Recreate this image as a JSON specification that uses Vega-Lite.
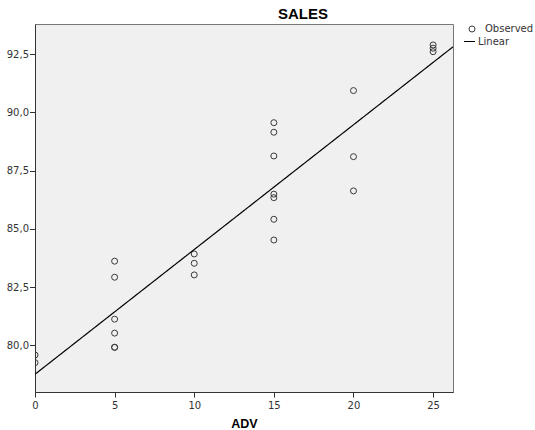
{
  "$schema": "https://vega.github.io/schema/vega-lite/v6.json",
  "width": 418,
  "height": 368,
  "autosize": "none",
  "padding": {"left": 35, "top": 24, "right": 82, "bottom": 38},
  "background": "white",
  "title": {
    "text": "SALES",
    "font": "Liberation Sans",
    "fontSize": 15,
    "fontWeight": "bold",
    "color": "#000000",
    "anchor": "middle",
    "frame": "group",
    "dx": 59,
    "offset": -10,
    "baseline": "alphabetic"
  },
  "data": {
    "values": [
      {"ADV": 0, "SALES": 79.58},
      {"ADV": 0, "SALES": 79.25},
      {"ADV": 5, "SALES": 83.61},
      {"ADV": 5, "SALES": 82.92},
      {"ADV": 5, "SALES": 81.12},
      {"ADV": 5, "SALES": 80.52},
      {"ADV": 5, "SALES": 79.91},
      {"ADV": 5, "SALES": 79.91},
      {"ADV": 10, "SALES": 83.92},
      {"ADV": 10, "SALES": 83.52},
      {"ADV": 10, "SALES": 83.02},
      {"ADV": 15, "SALES": 89.56},
      {"ADV": 15, "SALES": 89.15},
      {"ADV": 15, "SALES": 88.13},
      {"ADV": 15, "SALES": 86.49},
      {"ADV": 15, "SALES": 86.34},
      {"ADV": 15, "SALES": 85.41},
      {"ADV": 15, "SALES": 84.52},
      {"ADV": 20, "SALES": 90.94},
      {"ADV": 20, "SALES": 88.1},
      {"ADV": 20, "SALES": 86.63},
      {"ADV": 25, "SALES": 92.9},
      {"ADV": 25, "SALES": 92.76},
      {"ADV": 25, "SALES": 92.61}
    ]
  },
  "layer": [
    {
      "mark": {"type": "point", "filled": false, "size": 36, "strokeWidth": 1, "clip": true, "opacity": 1, "color": "#3a3a3a"},
      "encoding": {
        "x": {
          "field": "ADV",
          "type": "quantitative",
          "scale": {"domain": [0, 26.25], "nice": false, "zero": false},
          "axis": {
            "values": [0, 5, 10, 15, 20, 25],
            "format": "d",
            "title": "ADV",
            "titleFont": "Liberation Sans",
            "titleFontSize": 12.5,
            "titleFontWeight": "bold",
            "titleColor": "#000000",
            "titlePadding": 7,
            "labelPadding": 3,
            "tickSize": 5,
            "labelFlush": false,
            "grid": false
          }
        },
        "y": {
          "field": "SALES",
          "type": "quantitative",
          "scale": {"domain": [77.99, 93.8], "nice": false, "zero": false},
          "axis": {
            "values": [80, 82.5, 85, 87.5, 90, 92.5],
            "format": ".1f",
            "title": null,
            "tickSize": 5.5,
            "labelPadding": 1,
            "grid": false
          }
        },
        "shape": {
          "datum": "Observed",
          "scale": {"domain": ["Observed"], "range": ["circle"]},
          "legend": {
            "title": null,
            "orient": "none",
            "legendX": 432,
            "legendY": 0,
            "padding": 0,
            "labelFont": "DejaVu Sans",
            "labelFontSize": 10,
            "labelColor": "#333333",
            "labelOffset": 8,
            "symbolSize": 36,
            "symbolType": "circle",
            "symbolStrokeWidth": 1,
            "symbolStrokeColor": "#3a3a3a",
            "symbolFillColor": "transparent"
          }
        }
      }
    },
    {
      "transform": [{"regression": "SALES", "on": "ADV", "extent": [0, 26.25]}],
      "mark": {"type": "line", "strokeWidth": 1.2, "clip": true, "color": "#000000"},
      "encoding": {
        "x": {"field": "ADV", "type": "quantitative"},
        "y": {"field": "SALES", "type": "quantitative"},
        "strokeDash": {
          "datum": "Linear",
          "scale": {"domain": ["Linear"], "range": [[1, 0]]},
          "legend": {
            "title": null,
            "orient": "none",
            "legendX": 428,
            "legendY": 11,
            "padding": 0,
            "labelFont": "DejaVu Sans",
            "labelFontSize": 10,
            "labelColor": "#333333",
            "labelOffset": 2,
            "symbolType": "stroke",
            "symbolSize": 121,
            "symbolStrokeWidth": 1.2,
            "symbolStrokeColor": "#000000"
          }
        }
      }
    }
  ],
  "config": {
    "locale": {
      "number": {"decimal": ",", "thousands": ".", "grouping": [3], "currency": ["", " €"]}
    },
    "view": {"fill": "#f0f0f0", "stroke": "#777777", "strokeWidth": 1},
    "axis": {
      "labelFont": "DejaVu Sans",
      "labelFontSize": 10,
      "labelColor": "#333333",
      "domainColor": "#333333",
      "tickColor": "#333333",
      "domainWidth": 1,
      "tickWidth": 1
    }
  }
}
